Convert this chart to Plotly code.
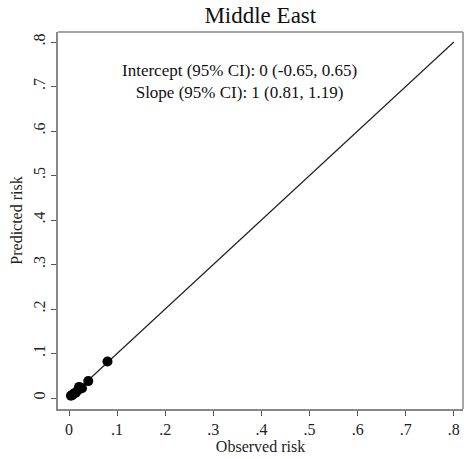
import plotly.graph_objects as go

observed = [0.004, 0.007, 0.010, 0.014, 0.018, 0.021, 0.027, 0.040, 0.080]
predicted = [0.005, 0.007, 0.010, 0.012, 0.017, 0.025, 0.022, 0.038, 0.082]
ref_line = [0, 0.8]
ticks = [0, 0.1, 0.2, 0.3, 0.4, 0.5, 0.6, 0.7, 0.8]
tick_labels = ["0", ".1", ".2", ".3", ".4", ".5", ".6", ".7", ".8"]

font = "Liberation Serif"

fig = go.Figure()
fig.add_trace(go.Scatter(x=ref_line, y=ref_line, mode="lines",
                         line=dict(color="#222222", width=1.2), showlegend=False))
fig.add_trace(go.Scatter(x=observed, y=predicted, mode="markers",
                         marker=dict(color="black", size=10), showlegend=False))

axis_common = dict(
    tickvals=ticks, ticktext=tick_labels, ticks="outside", ticklen=5,
    tickcolor="#555555", showline=True, linecolor="#888888", linewidth=1.5,
    showgrid=False, zeroline=False, mirror=False,
    tickfont=dict(family=font, size=16, color="#222222"),
)

fig.update_layout(
    width=464, height=459,
    margin=dict(l=58, r=1, t=32, b=50),
    plot_bgcolor="white", paper_bgcolor="white",
    font=dict(family=font),
    title=dict(text="Middle East", x=0.561, xanchor="center", y=0.968, yanchor="middle",
               font=dict(family=font, size=23, color="#111111")),
    xaxis=dict(range=[-0.0229, 0.819],
               title=dict(text="Observed risk", font=dict(family=font, size=16, color="#222222"), standoff=0),
               **axis_common),
    yaxis=dict(range=[-0.0247, 0.8225], tickangle=-90,
               title=dict(text="Predicted risk", font=dict(family=font, size=16, color="#222222"), standoff=4),
               **axis_common),
    shapes=[
        dict(type="line", xref="paper", yref="paper", x0=0, x1=1, y0=1, y1=1,
             line=dict(color="#888888", width=1.5)),
        dict(type="line", xref="paper", yref="paper", x0=1, x1=1, y0=0, y1=1,
             line=dict(color="#888888", width=1.5)),
    ],
    annotations=[
        dict(text="Intercept (95% CI): 0 (-0.65, 0.65)<br>Slope (95% CI): 1 (0.81, 1.19)",
             x=0.355, y=0.711, xref="x", yref="y", showarrow=False, align="center",
             font=dict(family=font, size=17, color="#111111")),
    ],
)

fig.write_html("out.html", config={"displayModeBar": False},
               post_script="document.body.style.margin='0';document.body.style.overflow='hidden';")
